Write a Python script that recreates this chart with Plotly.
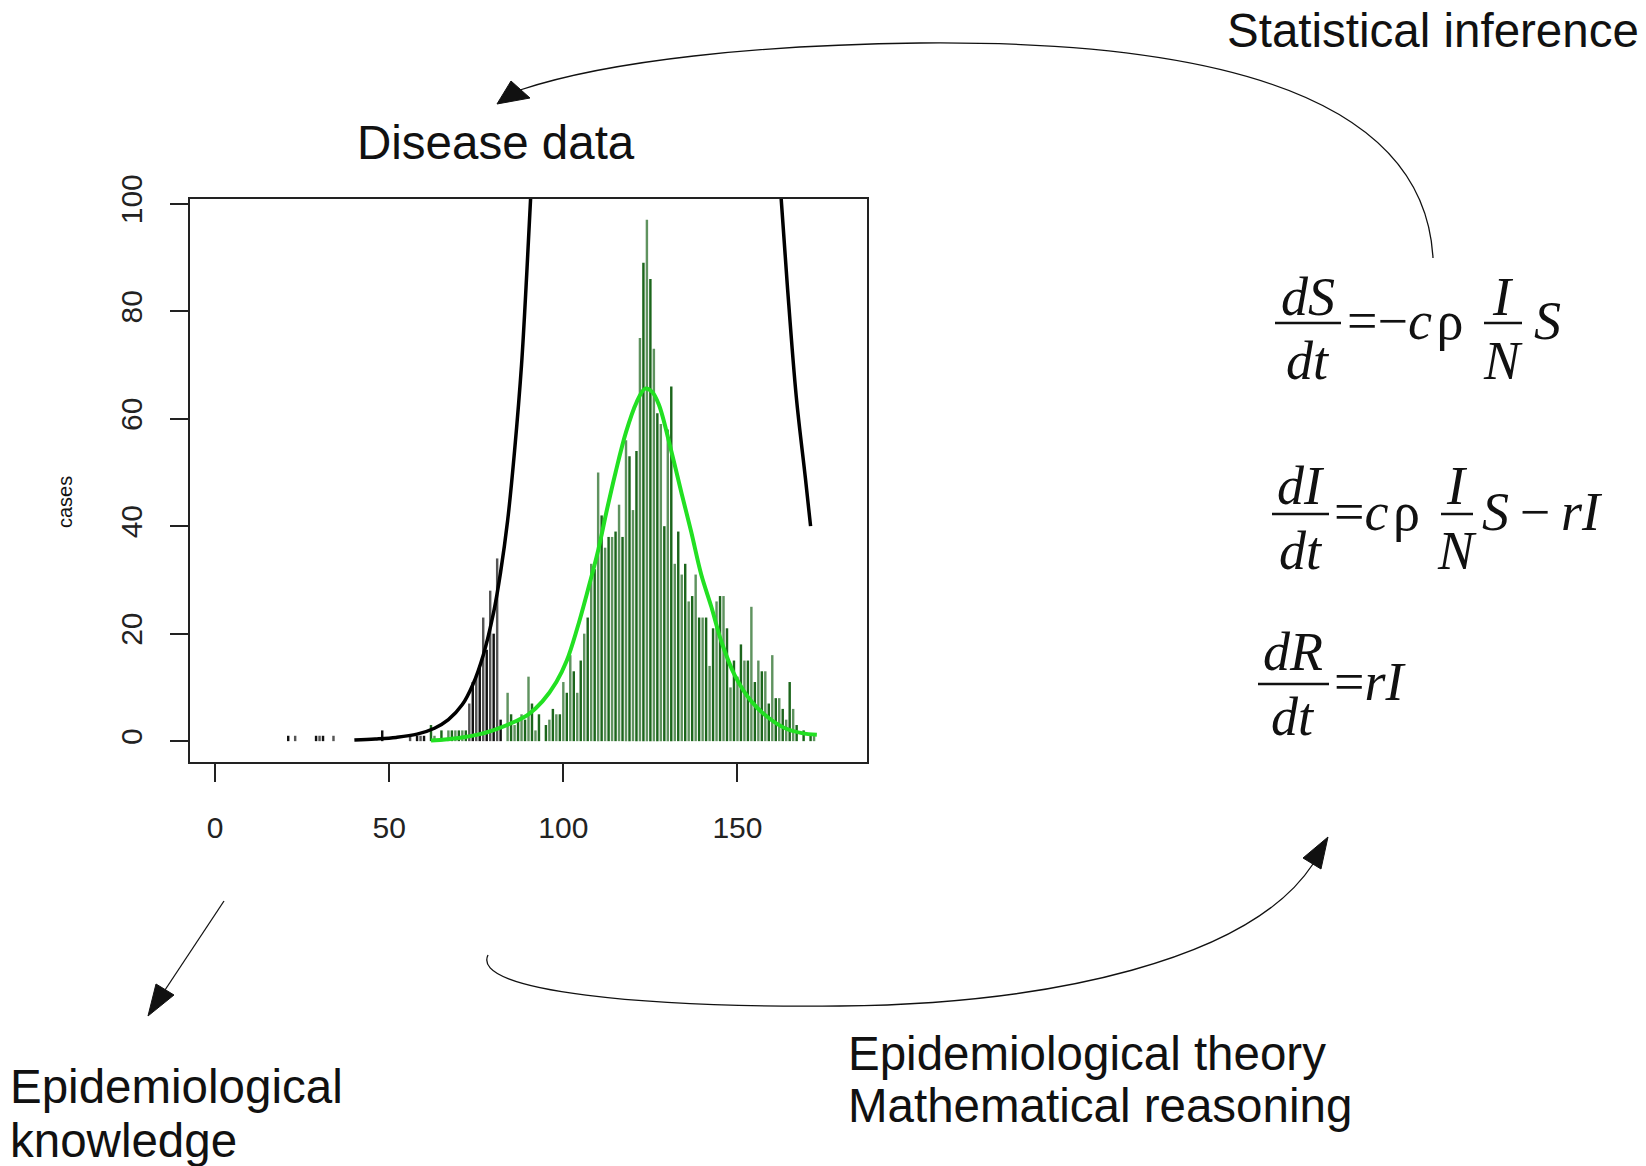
import plotly.graph_objects as go

W, H = 1646, 1166

# ---------------- data ----------------
# early daily counts (drawn in black)
black_days = [21, 23, 29, 30, 31, 34, 48, 56, 58, 59, 60, 73, 74, 75, 76, 77, 78, 79, 80, 81, 82]
black_cases = [1, 1, 1, 1, 1, 1, 2, 1, 1, 1, 1, 7, 11, 12, 14, 23, 17, 28, 20, 34, 4]

# later daily counts (drawn in green)
green_days = [62, 63, 65, 67, 68, 69, 70, 71, 72] + list(range(84, 173))
green_cases = [3, 1, 2, 2, 2, 2, 2, 2, 2,
               9, 5, 3, 4, 5, 4, 12, 7, 2, 5,
               0, 3, 4, 6, 5, 5, 11, 9, 16, 13,
               9, 15, 20, 23, 33, 32, 50, 42, 36, 38,
               38, 39, 44, 38, 56, 53, 43, 54, 75, 89,
               97, 86, 73, 61, 59, 40, 58, 66, 33, 39,
               31, 33, 26, 27, 31, 23, 23, 23, 14, 21,
               26, 27, 27, 21, 10, 15, 12, 18, 15, 15,
               25, 11, 15, 13, 13, 7, 16, 8, 8, 6,
               4, 11, 6, 3, 0, 2, 0, 1, 1]

# fitted epidemic curve (green line)
fit_days = [62, 70, 76, 81, 86, 90, 94, 98, 101, 104, 107, 110, 112.5, 115, 118,
            121, 123.5, 125.5, 127.5, 131, 134, 136.7, 139.6, 142.5, 145.4, 149.2, 154, 159,
            163.7, 168.5, 172.8]
fit_cases = [0.1, 0.6, 1.3, 2.3, 3.6, 5.0, 7.4, 11, 15, 21, 28, 35.5, 43, 50, 57.5,
             63, 65.6, 65, 62.5, 54, 46, 39, 31, 25, 18.5, 12.3, 7.4, 4.3,
             2.4, 1.5, 1.2]

# early exponential projection (black line, left branch)
exp_days = [40, 46, 52, 58, 63, 67, 71, 74, 77, 80, 82, 84, 86, 88, 89.5, 91]
exp_cases = [0.2, 0.4, 0.7, 1.3, 2.4, 4.0, 6.8, 10.5, 16, 24, 31.5, 41, 54, 70, 87, 106]

# black line, right branch
exp2_days = [162.0, 164.3, 166.9, 169.5, 171.0]
exp2_cases = [106, 85, 64, 49, 40]

x_ticks = [0, 50, 100, 150]
y_ticks = [0, 20, 40, 60, 80, 100]

# ---------------- helpers ----------------
def px(x):
    return x / W

def py(y):
    return 1 - y / H

green_colors = ['#1c661c' if i % 2 == 0 else '#5f935f' for i in range(len(green_days))]
black_colors = ['#111111' if i % 2 == 0 else '#555555' for i in range(len(black_days))]

fig = go.Figure()
fig.add_trace(go.Bar(x=green_days, y=green_cases, width=0.7,
                     marker=dict(color=green_colors, line=dict(width=0))))
fig.add_trace(go.Bar(x=black_days, y=black_cases, width=0.7,
                     marker=dict(color=black_colors, line=dict(width=0))))
fig.add_trace(go.Scatter(x=fit_days, y=fit_cases, mode='lines',
                         line=dict(color='#22e022', width=4, shape='spline')))
fig.add_trace(go.Scatter(x=exp_days, y=exp_cases, mode='lines',
                         line=dict(color='black', width=3.5, shape='spline')))
fig.add_trace(go.Scatter(x=exp2_days, y=exp2_cases, mode='lines',
                         line=dict(color='black', width=3.5, shape='spline')))

axis_font = dict(family='Liberation Sans, Arial, sans-serif', size=30, color='#222')

fig.update_layout(
    template='none',
    width=W, height=H,
    margin=dict(l=0, r=0, t=0, b=0),
    paper_bgcolor='white', plot_bgcolor='white',
    showlegend=False, barmode='overlay',
    font=dict(family='Liberation Sans, Arial, sans-serif', color='#222'),
    xaxis=dict(domain=[190 / W, 867 / W], range=[-7.2, 187.2], tickvals=x_ticks,
               ticks='outside', ticklen=18, tickwidth=2, tickcolor='#222',
               showline=True, linecolor='#222', linewidth=2, mirror=True,
               showgrid=False, zeroline=False, tickfont=axis_font,
               ticklabelstandoff=20, automargin=False),
    yaxis=dict(domain=[1 - 762 / H, 1 - 199 / H], range=[-3.88, 100.88], tickvals=y_ticks,
               ticks='outside', ticklen=18, tickwidth=2, tickcolor='#222', tickangle=-90,
               showline=True, linecolor='#222', linewidth=2, mirror=True,
               showgrid=False, zeroline=False, tickfont=axis_font,
               ticklabelstandoff=16, automargin=False),
)

annotations = []
shapes = []

def text(s, x, y, size, xanchor='left', family='Liberation Sans, Arial, sans-serif', angle=0):
    annotations.append(dict(text=s, x=px(x), y=py(y), xref='paper', yref='paper',
                            xanchor=xanchor, yanchor='middle', showarrow=False,
                            textangle=angle,
                            font=dict(family=family, size=size, color='#111')))

# labels
LBL = 47.5
text('Statistical inference', 1225, 30, LBL)
text('Disease data', 355, 142, LBL)
text('Epidemiological', 8, 1086, LBL)
text('knowledge', 8, 1140, LBL)
text('Epidemiological theory', 846, 1053, LBL)
text('Mathematical reasoning', 846, 1105, LBL)
text('cases', 65, 502, 20, xanchor='center', angle=-90)

# equations
SERIF = 'Liberation Serif, Times New Roman, serif'
EQ = 54

def frac(num, den, cx, ynum, ybar, yden, x0, x1):
    text(num, cx, ynum, EQ, xanchor='center', family=SERIF)
    text(den, cx, yden, EQ, xanchor='center', family=SERIF)
    shapes.append(dict(type='line', xref='paper', yref='paper',
                       x0=px(x0), x1=px(x1), y0=py(ybar), y1=py(ybar),
                       line=dict(color='#111', width=2.5)))

# dS/dt = -c rho I/N S
frac('<i>dS</i>', '<i>dt</i>', 1308, 297, 323, 361, 1275, 1341)
text('=\u2212<i>c</i>\u200a\u03c1', 1345, 321, EQ, family=SERIF)
frac('<i>I</i>', '<i>N</i>', 1503, 297, 323, 361, 1484, 1522)
text('<i>S</i>', 1532, 321, EQ, family=SERIF)

# dI/dt = c rho I/N S - rI
frac('<i>dI</i>', '<i>dt</i>', 1301, 486, 514, 551, 1272, 1329)
text('=<i>c</i>\u200a\u03c1', 1332, 512, EQ, family=SERIF)
frac('<i>I</i>', '<i>N</i>', 1457, 486, 514, 551, 1441, 1473)
text('<i>S</i>\u2009\u2212\u2009<i>rI</i>', 1480, 512, EQ, family=SERIF)

# dR/dt = rI
frac('<i>dR</i>', '<i>dt</i>', 1293, 652, 684, 717, 1258, 1329)
text('=<i>rI</i>', 1332, 682, EQ, family=SERIF)

# arrows
def path_px(cmds):
    out = []
    for c in cmds:
        if isinstance(c, str):
            out.append(c)
        else:
            out.append('%.5f,%.5f' % (px(c[0]), py(c[1])))
    return ' '.join(out)

line_style = dict(color='#111', width=1.3)

# top curved arrow (Statistical inference -> Disease data)
shapes.append(dict(type='path', xref='paper', yref='paper',
                   path=path_px(['M', (1433, 258), 'C', (1425, 110), (1250, 40), (920, 43),
                                 'C', (760, 45), (610, 60), (520, 90)]),
                   line=line_style))
shapes.append(dict(type='path', xref='paper', yref='paper',
                   path=path_px(['M', (497, 104), 'L', (511, 81), 'L', (530, 98), 'Z']),
                   fillcolor='#111', line=dict(color='#111', width=1)))

# bottom-left straight arrow
shapes.append(dict(type='line', xref='paper', yref='paper',
                   x0=px(224), y0=py(901), x1=px(165), y1=py(990), line=line_style))
shapes.append(dict(type='path', xref='paper', yref='paper',
                   path=path_px(['M', (148, 1016), 'L', (156, 984), 'L', (174, 995), 'Z']),
                   fillcolor='#111', line=dict(color='#111', width=1)))

# bottom curved arrow
shapes.append(dict(type='path', xref='paper', yref='paper',
                   path=path_px(['M', (488, 955), 'C', (470, 992), (650, 1008), (840, 1006),
                                 'C', (1050, 1004), (1250, 960), (1313, 864)]),
                   line=line_style))
shapes.append(dict(type='path', xref='paper', yref='paper',
                   path=path_px(['M', (1328, 837), 'L', (1303, 858), 'L', (1321, 869), 'Z']),
                   fillcolor='#111', line=dict(color='#111', width=1)))

fig.update_layout(annotations=annotations, shapes=shapes)

fig.write_html('out.html')
